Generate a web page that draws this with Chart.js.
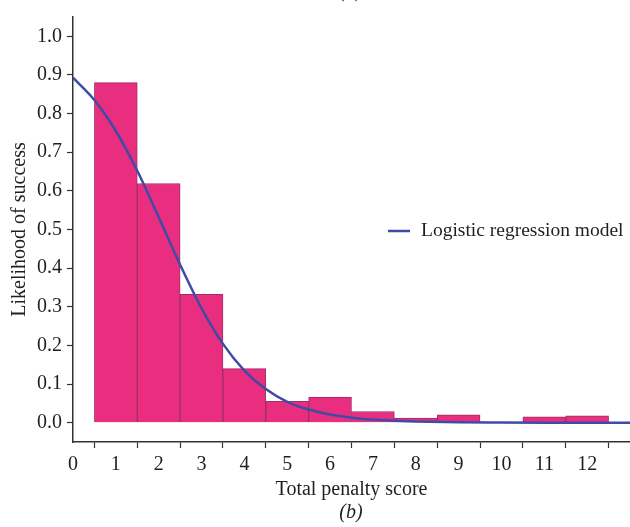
<!DOCTYPE html>
<html>
<head>
<meta charset="utf-8">
<script src="https://cdn.jsdelivr.net/npm/chart.js@4/dist/chart.umd.min.js"></script>
<style>
  html, body { margin: 0; padding: 0; background: #fff; }
  #wrap { width: 630px; height: 527px; }
</style>
</head>
<body>
<div id="wrap"><canvas id="penaltyChart" width="630" height="527"></canvas></div>
<script>
// Histogram bins (total penalty score) and observed likelihood of success
const scores = [1, 2, 3, 4, 5, 6, 7, 8, 9, 11, 12];
const successRate = [0.880, 0.619, 0.332, 0.140, 0.055, 0.066, 0.029, 0.012, 0.020, 0.015, 0.018];

// Logistic regression curve
const curveX = [0, 0.5, 1, 1.5, 2, 2.5, 3, 3.5, 4, 4.5, 5, 5.5, 6, 6.5, 7, 7.5, 8, 9, 10, 11, 12, 13];
const curveY = [0.893, 0.835, 0.755, 0.652, 0.532, 0.409, 0.296, 0.204, 0.135, 0.087, 0.054, 0.034, 0.021, 0.013, 0.008, 0.005, 0.003, 0.001, 0.0004, 0.0001, 0.0, 0.0];

// Tick labels
const xTicks = [0, 1, 2, 3, 4, 5, 6, 7, 8, 9, 10, 11, 12];
const yTicks = [0, 0.1, 0.2, 0.3, 0.4, 0.5, 0.6, 0.7, 0.8, 0.9, 1.0];

const serif = "'Liberation Serif', 'DejaVu Serif', serif";
const ink = '#1f1f1f';

// small plugin for the in-chart legend and the (a)/(b) panel marks
const extraText = {
    id: 'extraText',
    afterDraw(chart) {
        const ctx = chart.ctx;
        const line = chart.data.datasets[0];
        ctx.save();
        // legend
        ctx.strokeStyle = line.borderColor;
        ctx.lineWidth = 2.5;
        ctx.beginPath();
        ctx.moveTo(388, 231);
        ctx.lineTo(410, 231);
        ctx.stroke();
        ctx.fillStyle = ink;
        ctx.font = '19.5px ' + serif;
        ctx.textAlign = 'left';
        ctx.textBaseline = 'middle';
        ctx.fillText(line.label, 421, 231);
        // panel labels
        ctx.textAlign = 'center';
        ctx.textBaseline = 'alphabetic';
        ctx.font = 'italic 20px ' + serif;
        ctx.fillText('(a)', 351, -3);
        ctx.fillText('(b)', 351, 518);
        ctx.restore();
    }
};

const ctx = document.getElementById('penaltyChart').getContext('2d');
new Chart(ctx, {
    data: {
        datasets: [
            {
                type: 'line',
                label: 'Logistic regression model',
                data: curveX.map((x, i) => ({ x: x, y: curveY[i] })),
                borderColor: '#3f4ca6',
                borderWidth: 2.5,
                pointRadius: 0,
                cubicInterpolationMode: 'monotone',
                order: 0
            },
            {
                type: 'bar',
                label: 'Observed',
                data: scores.map((s, i) => ({ x: s, y: successRate[i] })),
                backgroundColor: '#e92e7f',
                borderColor: '#9e2f66',
                borderWidth: 1,
                barPercentage: 1.0,
                categoryPercentage: 1.0,
                order: 1
            }
        ]
    },
    options: {
        responsive: false,
        animation: false,
        layout: { padding: { top: 12, right: 0, bottom: 25, left: 0 } },
        plugins: {
            legend: { display: false },
            tooltip: { enabled: false }
        },
        scales: {
            x: {
                type: 'linear',
                min: 0,
                max: 13,
                offset: false,
                afterBuildTicks: (scale) => { scale.ticks = xTicks.map(v => ({ value: v })); },
                afterFit: (scale) => { scale.height = 60; },
                grid: { drawOnChartArea: false, drawTicks: true, tickLength: 6, tickColor: '#333', tickWidth: 1.2 },
                border: { display: true, color: '#333', width: 1.5 },
                ticks: {
                    autoSkip: false,
                    maxRotation: 0,
                    padding: 5,
                    color: ink,
                    font: { family: serif, size: 20 }
                },
                title: {
                    display: true,
                    text: 'Total penalty score',
                    color: ink,
                    padding: { top: 0, bottom: 0 },
                    font: { family: serif, size: 20 }
                }
            },
            y: {
                min: -0.05,
                max: 1.05,
                afterBuildTicks: (scale) => { scale.ticks = yTicks.map(v => ({ value: v })); },
                afterFit: (scale) => { scale.width = 73; },
                grid: { drawOnChartArea: false, drawTicks: true, tickLength: 6, tickColor: '#333', tickWidth: 1.2 },
                border: { display: true, color: '#333', width: 1.5 },
                ticks: {
                    padding: 5,
                    color: ink,
                    font: { family: serif, size: 20 },
                    callback: (value) => value.toFixed(1)
                },
                title: {
                    display: true,
                    text: 'Likelihood of success',
                    color: ink,
                    padding: { top: 8, bottom: 0 },
                    font: { family: serif, size: 20 }
                }
            }
        }
    },
    plugins: [extraText]
});
</script>
</body>
</html>
